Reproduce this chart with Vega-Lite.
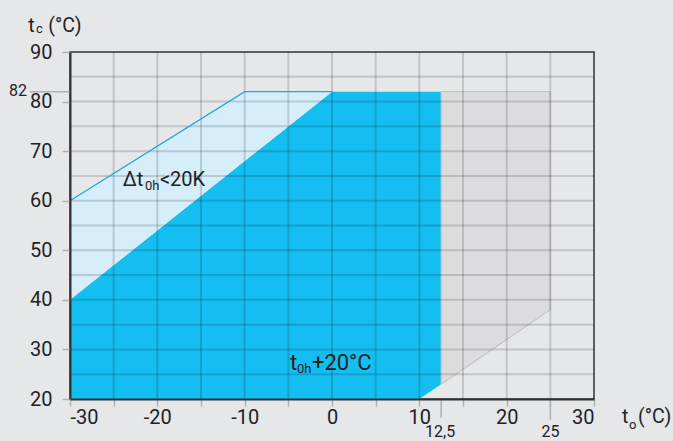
{
  "$schema": "https://vega.github.io/schema/vega-lite/v6.json",
  "width": 524,
  "height": 347,
  "autosize": {"type": "none"},
  "padding": {"left": 70, "top": 52, "right": 79, "bottom": 42},
  "background": "#e6e7e9",
  "config": {
    "view": {"stroke": "#333333", "strokeWidth": 1.5, "fill": "#e6e7e9"},
    "axis": {
      "zindex": 1,
      "grid": false,
      "domainColor": "#333333",
      "domainWidth": 2,
      "tickColor": "#b0b0b0",
      "tickWidth": 1.5,
      "labelFont": "Roboto",
      "labelFontSize": 20,
      "labelColor": "#222222",
      "title": null
    }
  },
  "datasets": {
    "dark": [
      {"x": -30, "top": 40, "bottom": 20},
      {"x": 0, "top": 82, "bottom": 20},
      {"x": 10, "top": 82, "bottom": 20},
      {"x": 12.5, "top": 82, "bottom": 23}
    ],
    "light": [
      {"x": -30, "top": 60, "bottom": 40},
      {"x": -10, "top": 82, "bottom": 68},
      {"x": 0, "top": 82, "bottom": 82}
    ],
    "grey": [
      {"x": 12.5, "top": 82, "bottom": 23},
      {"x": 25, "top": 82, "bottom": 38}
    ],
    "outline": [
      {"x": -30, "y": 60},
      {"x": -10, "y": 82},
      {"x": 0, "y": 82}
    ],
    "gridx": [
      {"x": -25}, {"x": -20}, {"x": -15}, {"x": -10}, {"x": -5}, {"x": 0},
      {"x": 5}, {"x": 10}, {"x": 15}, {"x": 20}, {"x": 25}
    ],
    "gridy": [
      {"y": 25}, {"y": 30}, {"y": 35}, {"y": 40}, {"y": 45}, {"y": 50}, {"y": 55},
      {"y": 60}, {"y": 65}, {"y": 70}, {"y": 75}, {"y": 80}, {"y": 85}
    ],
    "ticks": [
      {"x": -34.58, "x2": -30, "y": 82, "y2": 82},
      {"x": 12.5, "x2": 12.5, "y": 20, "y2": 16.2},
      {"x": 25, "x2": 25, "y": 20, "y2": 15.8}
    ],
    "labels": [
      {"text": "t", "x": -34.77, "y": 94.05, "role": "title"},
      {"text": "c", "x": -33.89, "y": 93.8, "role": "titlesub"},
      {"text": "(°C)", "x": -32.49, "y": 94.05, "role": "title"},
      {"text": "t", "x": 33.2, "y": 15.14, "role": "title"},
      {"text": "o", "x": 34.0, "y": 13.95, "role": "titlesub"},
      {"text": "(°C)", "x": 35.05, "y": 15.14, "role": "title"},
      {"text": "Δt", "x": -23.97, "y": 62.97, "role": "big"},
      {"text": "0h", "x": -21.41, "y": 62.16, "role": "sub"},
      {"text": "<20K", "x": -19.7, "y": 62.97, "role": "big"},
      {"text": "t", "x": -4.8, "y": 25.85, "role": "big2"},
      {"text": "0h", "x": -4.0, "y": 25.18, "role": "sub2"},
      {"text": "+20°C", "x": -2.3, "y": 25.85, "role": "big2"},
      {"text": "82", "x": -36.98, "y": 81.1, "role": "small"},
      {"text": "12,5", "x": 10.65, "y": 12.4, "role": "small"},
      {"text": "25", "x": 24.0, "y": 12.4, "role": "small"}
    ]
  },
  "encoding": {
    "x": {
      "field": "x", "type": "quantitative",
      "scale": {"domain": [-30, 30], "nice": false, "zero": false},
      "axis": {
        "zindex": 1,
        "values": [-30, -25, -20, -15, -10, -5, 0, 5, 10, 15, 20, 25, 30],
        "labelExpr": "datum.value % 10 === 0 ? toString(datum.value) : ''",
        "tickSize": 7,
        "labelPadding": 1
      }
    }
  },
  "layer": [
    {
      "data": {"name": "dark"},
      "mark": {"type": "area", "color": "#14bef0", "opacity": 1},
      "encoding": {
        "y": {"field": "top", "type": "quantitative",
          "scale": {"domain": [20, 90], "nice": false, "zero": false},
          "axis": {
            "zindex": 1,
            "values": [20, 25, 30, 35, 40, 45, 50, 55, 60, 65, 70, 75, 80, 85, 90],
            "labelExpr": "datum.value % 10 === 0 ? toString(datum.value) : ''",
            "tickSize": 8,
            "labelPadding": 10
          }},
        "y2": {"field": "bottom"}
      }
    },
    {
      "data": {"name": "light"},
      "mark": {"type": "area", "color": "#d6eefa", "opacity": 1},
      "encoding": {
        "y": {"field": "top", "type": "quantitative"},
        "y2": {"field": "bottom"}
      }
    },
    {
      "data": {"name": "grey"},
      "mark": {"type": "area", "color": "#dcdcde", "opacity": 1, "stroke": "#c4c4c6", "strokeWidth": 1.2},
      "encoding": {
        "y": {"field": "top", "type": "quantitative"},
        "y2": {"field": "bottom"}
      }
    },
    {
      "data": {"name": "gridx"},
      "mark": {"type": "rule", "color": "#000000", "opacity": 0.15, "strokeWidth": 2},
      "encoding": {}
    },
    {
      "data": {"name": "gridy"},
      "mark": {"type": "rule", "color": "#000000", "opacity": 0.15, "strokeWidth": 2},
      "encoding": {
        "x": {"value": 0},
        "x2": {"value": 524},
        "y": {"field": "y", "type": "quantitative"}
      }
    },
    {
      "data": {"name": "outline"},
      "mark": {"type": "line", "color": "#1ca6e4", "strokeWidth": 1.3},
      "encoding": {
        "y": {"field": "y", "type": "quantitative"}
      }
    },
    {
      "data": {"name": "ticks"},
      "mark": {"type": "rule", "color": "#b0b0b0", "strokeWidth": 1.5},
      "encoding": {
        "x2": {"field": "x2"},
        "y": {"field": "y", "type": "quantitative"},
        "y2": {"field": "y2"}
      }
    },
    {
      "data": {"name": "labels"},
      "transform": [{"filter": "datum.role === 'title'"}],
      "mark": {"type": "text", "font": "Roboto", "fontSize": 19.5, "align": "left", "baseline": "alphabetic", "color": "#222222"},
      "encoding": {
        "y": {"field": "y", "type": "quantitative"},
        "text": {"field": "text"}
      }
    },
    {
      "data": {"name": "labels"},
      "transform": [{"filter": "datum.role === 'titlesub'"}],
      "mark": {"type": "text", "font": "Roboto", "fontSize": 13, "align": "left", "baseline": "alphabetic", "color": "#222222"},
      "encoding": {
        "y": {"field": "y", "type": "quantitative"},
        "text": {"field": "text"}
      }
    },
    {
      "data": {"name": "labels"},
      "transform": [{"filter": "datum.role === 'big'"}],
      "mark": {"type": "text", "font": "Roboto", "fontSize": 20, "align": "left", "baseline": "alphabetic", "color": "#222222"},
      "encoding": {
        "y": {"field": "y", "type": "quantitative"},
        "text": {"field": "text"}
      }
    },
    {
      "data": {"name": "labels"},
      "transform": [{"filter": "datum.role === 'sub'"}],
      "mark": {"type": "text", "font": "Roboto", "fontSize": 13, "align": "left", "baseline": "alphabetic", "color": "#222222"},
      "encoding": {
        "y": {"field": "y", "type": "quantitative"},
        "text": {"field": "text"}
      }
    },
    {
      "data": {"name": "labels"},
      "transform": [{"filter": "datum.role === 'big2'"}],
      "mark": {"type": "text", "font": "Roboto", "fontSize": 22, "align": "left", "baseline": "alphabetic", "color": "#222222"},
      "encoding": {
        "y": {"field": "y", "type": "quantitative"},
        "text": {"field": "text"}
      }
    },
    {
      "data": {"name": "labels"},
      "transform": [{"filter": "datum.role === 'sub2'"}],
      "mark": {"type": "text", "font": "Roboto", "fontSize": 13, "align": "left", "baseline": "alphabetic", "color": "#222222"},
      "encoding": {
        "y": {"field": "y", "type": "quantitative"},
        "text": {"field": "text"}
      }
    },
    {
      "data": {"name": "labels"},
      "transform": [{"filter": "datum.role === 'small'"}],
      "mark": {"type": "text", "font": "Roboto", "fontSize": 16, "align": "left", "baseline": "alphabetic", "color": "#222222"},
      "encoding": {
        "y": {"field": "y", "type": "quantitative"},
        "text": {"field": "text"}
      }
    }
  ]
}
